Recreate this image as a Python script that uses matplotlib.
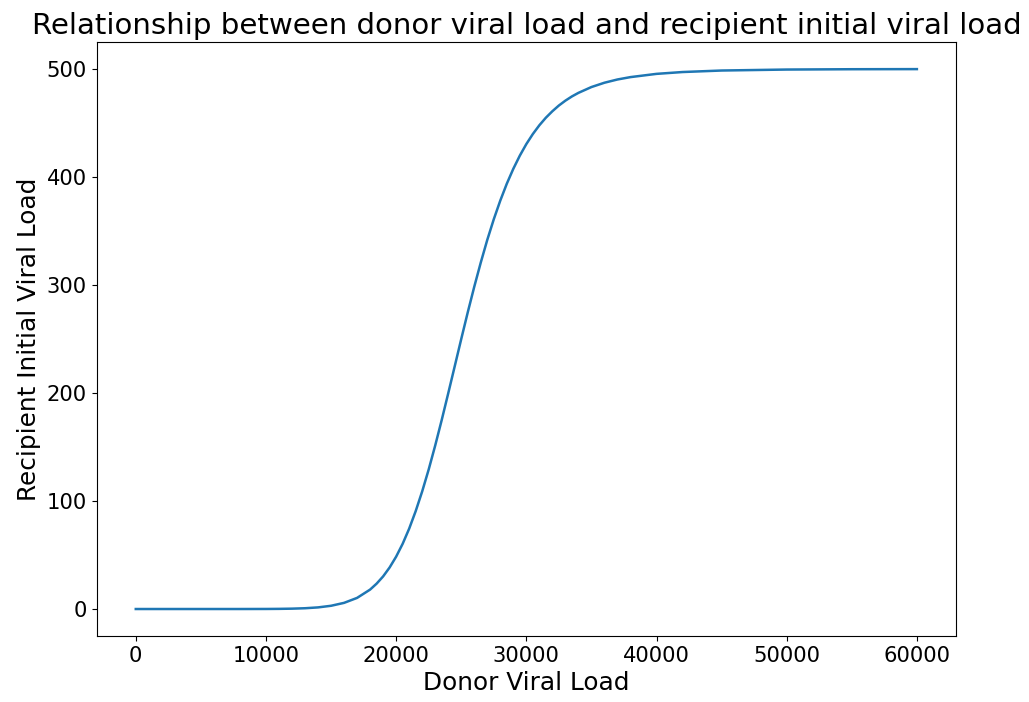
import matplotlib
matplotlib.use("Agg")
import matplotlib.pyplot as plt

# values
donor_load = [0, 2000, 4000, 6000, 8000, 10000, 11000, 12000, 13000, 14000,
              15000, 16000, 17000, 18000, 18500, 19000, 19500, 20000, 20500,
              21000, 21500, 22000, 22500, 23000, 23500, 24000, 24500, 25000,
              25500, 26000, 26500, 27000, 27500, 28000, 28500, 29000, 29500,
              30000, 30500, 31000, 31500, 32000, 32500, 33000, 33500, 34000,
              35000, 36000, 37000, 38000, 40000, 42000, 45000, 50000, 55000,
              60000]
recipient_load = [0.0, 0.0, 0.0, 0.0, 0.0, 0.05, 0.14, 0.33, 0.72, 1.5,
                  3.0, 5.7, 10.3, 18.0, 23.5, 30.2, 38.5, 48.5, 60.4,
                  74.4, 90.6, 108.9, 129.2, 151.4, 175.0, 199.7, 224.8, 250.0,
                  274.7, 298.4, 320.8, 341.8, 360.9, 378.2, 393.8, 407.6, 419.8,
                  430.5, 439.8, 447.9, 454.9, 460.9, 466.2, 470.7, 474.6, 477.9,
                  483.3, 487.3, 490.3, 492.5, 495.5, 497.2, 498.6, 499.5, 499.8,
                  499.9]

fig = plt.figure(figsize=(10.29, 7.02), dpi=100)
ax = fig.add_subplot(111)
fig.subplots_adjust(left=0.094, right=0.929, top=0.940, bottom=0.094)

ax.plot(donor_load, recipient_load, color='#1f77b4', linewidth=1.8)
ax.set_title("Relationship between donor viral load and recipient initial viral load", fontsize=21.1)
ax.set_xlabel("Donor Viral Load", fontsize=17.8)
ax.set_ylabel("Recipient Initial Viral Load", fontsize=17.8)
ax.tick_params(labelsize=15.2)

plt.savefig("out.png", dpi=100)
